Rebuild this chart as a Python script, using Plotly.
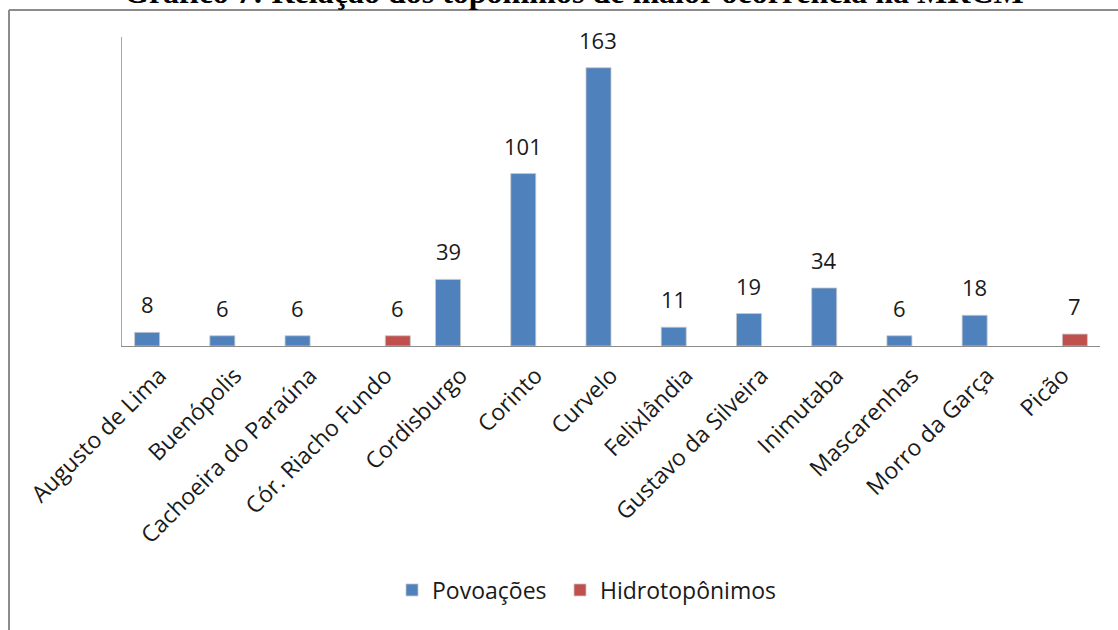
import plotly.graph_objects as go

# Localidades e contagens de topônimos
categorias = [
    "Augusto de Lima", "Buenópolis", "Cachoeira do Paraúna", "Cór. Riacho Fundo",
    "Cordisburgo", "Corinto", "Curvelo", "Felixlândia", "Gustavo da Silveira",
    "Inimutaba", "Mascarenhas", "Morro da Garça", "Picão",
]
povoacoes = [8, 6, 6, None, 39, 101, 163, 11, 19, 34, 6, 18, None]
hidrotoponimos = [None, None, None, 6, None, None, None, None, None, None, None, None, 7]

AZUL = "#4F81BD"
VERMELHO = "#C0504D"
FONTE = "Open Sans"

W, H = 1118, 630
ML, MR, MT, MB = 122, 18, 37, 284
PLOT_W = W - ML - MR
PLOT_H = H - MT - MB
Y_MAX = 181


def px_x(px):
    return (px - ML) / PLOT_W


def px_y(py):
    return (H - MB - py) / PLOT_H


fig = go.Figure()
sombra = dict(color="rgba(200,200,200,0.8)", width=1)
fig.add_trace(go.Bar(name="Povoações", x=categorias, y=povoacoes, legend="legend",
                     marker=dict(color=AZUL, line=sombra)))
fig.add_trace(go.Bar(name="Hidrotopônimos", x=categorias, y=hidrotoponimos, legend="legend2",
                     marker=dict(color=VERMELHO, line=sombra)))

# Rótulos de valor sobre as barras
meia_barra = PLOT_W / len(categorias) * (1 - 0.335) / 4
for serie, desloc in ((povoacoes, -meia_barra), (hidrotoponimos, meia_barra)):
    for cat, v in zip(categorias, serie):
        if v is None:
            continue
        fig.add_annotation(x=cat, y=v, xref="x", yref="y", text=str(v),
                           showarrow=False, yanchor="bottom", xshift=desloc,
                           yshift=11, font=dict(family=FONTE, size=22, color="#1a1a1a"))

# Título
fig.add_annotation(text="<b>Gráfico 7: Relação dos topônimos de maior ocorrência na MRCM</b>",
                   x=px_x(574), y=px_y(12), xref="paper", yref="paper",
                   xanchor="center", yanchor="bottom", showarrow=False,
                   font=dict(family="Liberation Serif", size=32, color="#000000"))

# Moldura do gráfico
borda = dict(color="#8C8C8C", width=2)
fig.add_shape(type="line", xref="paper", yref="paper",
              x0=px_x(9), x1=px_x(W + 20), y0=px_y(10), y1=px_y(10), line=borda)
fig.add_shape(type="line", xref="paper", yref="paper",
              x0=px_x(9), x1=px_x(9), y0=px_y(10), y1=px_y(H + 20), line=borda)

legenda = dict(orientation="h", y=px_y(590), xanchor="left", yanchor="middle",
               font=dict(family=FONTE, size=23, color="#1a1a1a"), itemwidth=30)

fig.update_layout(
    width=W, height=H,
    margin=dict(l=ML, r=MR, t=MT, b=MB),
    paper_bgcolor="white", plot_bgcolor="white",
    barmode="group", bargap=0.335, bargroupgap=0,
    font=dict(family=FONTE, size=20, color="#1a1a1a"),
    showlegend=True,
    legend=dict(legenda, x=px_x(392)),
    legend2=dict(legenda, x=px_x(560)),
    xaxis=dict(type="category", tickangle=-45, showgrid=False, ticks="",
               showline=True, linecolor="#8C8C8C", linewidth=1,
               ticklabelstandoff=6,
               tickfont=dict(family=FONTE, size=23, color="#1a1a1a")),
    yaxis=dict(range=[0, Y_MAX], showgrid=False, showticklabels=False, ticks="",
               showline=True, linecolor="#A6A6A6", linewidth=1, zeroline=False),
)

fig.write_html("out.html")
